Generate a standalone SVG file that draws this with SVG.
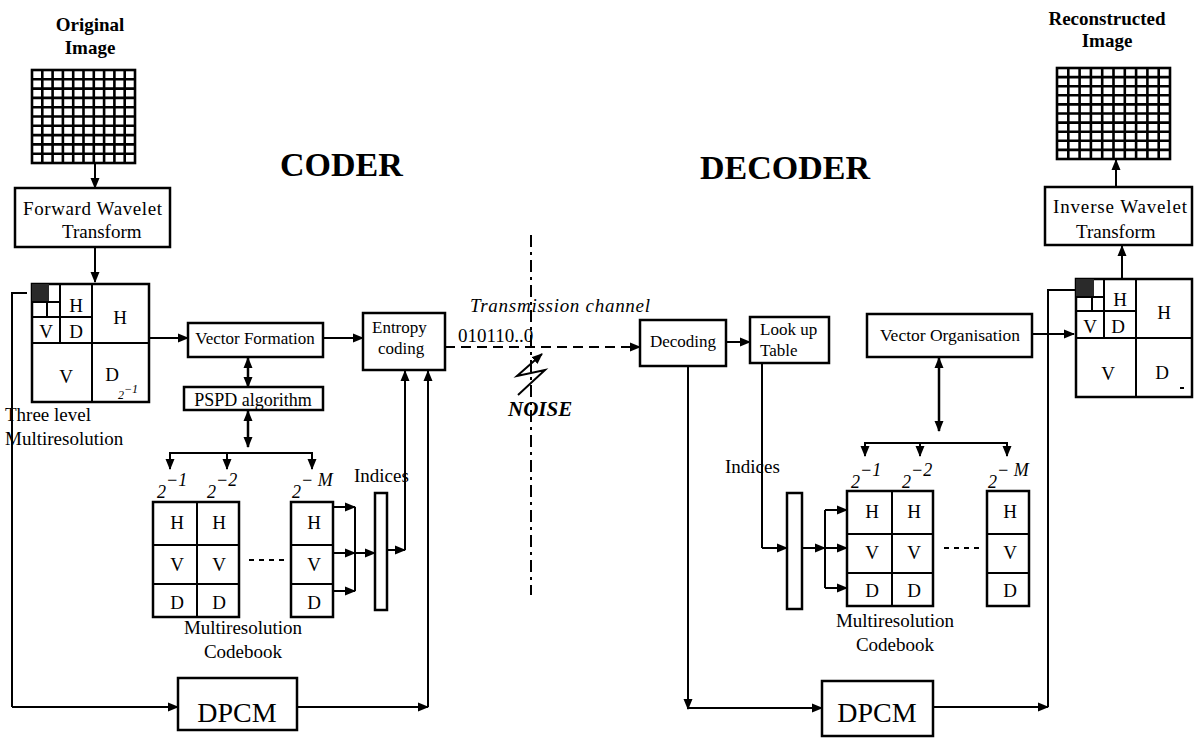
<svg xmlns="http://www.w3.org/2000/svg" width="1194" height="739" viewBox="0 0 1194 739">
<defs>
<marker id="ah" markerUnits="userSpaceOnUse" markerWidth="11" markerHeight="10" refX="10" refY="5" orient="auto-start-reverse">
<path d="M0,0.5 L11,5 L0,9.5 z" fill="#000"/>
</marker>
</defs>
<style>
text{font-family:"Liberation Serif","Times New Roman",serif;fill:#000}
.box{fill:#fff;stroke:#000;stroke-width:2.5}
.ln{fill:none;stroke:#000;stroke-width:2}
.arr{fill:none;stroke:#000;stroke-width:2;marker-end:url(#ah)}
.darr{fill:none;stroke:#000;stroke-width:2.5;marker-end:url(#ah);marker-start:url(#ah)}
.grid{fill:#fff;stroke:#000;stroke-width:2.6}
.t17{font-size:17px}
.t19{font-size:19px}
.lab{font-size:19px;text-anchor:middle}
.sup{font-size:18px;font-style:italic}
.big{font-size:34px;font-weight:bold}
.ttl{font-size:19px;font-weight:bold;text-anchor:middle}
.dark{fill:#2a2a2a}
</style>
<rect width="1194" height="739" fill="#fff"/>

<!-- Section titles -->
<text class="big" x="280" y="176">CODER</text>
<text class="big" x="700" y="179">DECODER</text>

<g id="original-image">
<text class="ttl" x="90" y="31">Original</text>
<text class="ttl" x="90" y="54">Image</text>
<rect class="grid" x="32" y="70" width="103" height="93"/>
<path class="grid" d="M42.3,70V163M52.6,70V163M62.9,70V163M73.2,70V163M83.5,70V163M93.8,70V163M104.1,70V163M114.4,70V163M124.7,70V163M32,79.3H135M32,88.6H135M32,97.9H135M32,107.2H135M32,116.5H135M32,125.8H135M32,135.1H135M32,144.4H135M32,153.7H135"/>
</g>

<g id="forward-wavelet">
<rect class="box" x="15" y="188" width="155" height="59"/>
<text class="t19" x="23" y="215" textLength="139">Forward Wavelet</text>
<text class="t19" x="62" y="238">Transform</text>
</g>

<g id="three-level">
<rect class="box" x="32" y="284" width="117" height="118"/>
<path class="ln" d="M92,284V402M32,343H149M60,284V343M32,317H92M47,302V317M32,302H60" stroke-width="2.5"/>
<rect class="dark" x="32" y="284" width="17" height="17"/>
<text class="lab" x="76" y="312">H</text>
<text class="lab" x="46" y="338">V</text>
<text class="lab" x="76" y="338">D</text>
<text class="lab" x="120" y="324">H</text>
<text class="lab" x="66" y="383">V</text>
<text class="lab" x="112" y="381">D</text>
<text style="font-size:12px;font-style:italic" x="118" y="399">2<tspan dy="-6">−1</tspan></text>
<text class="t19" x="5" y="421">Three level</text>
<text class="t19" x="5" y="445">Multiresolution</text>
</g>

<g id="vector-formation">
<rect class="box" x="188" y="323" width="135" height="34"/>
<text class="t17" x="255" y="344" text-anchor="middle">Vector Formation</text>
</g>

<g id="pspd">
<rect class="box" x="184" y="387" width="139" height="23"/>
<text style="font-size:18px" x="253" y="406" text-anchor="middle">PSPD algorithm</text>
</g>

<g id="entropy-coding">
<rect class="box" x="363" y="313" width="82" height="57"/>
<text class="t17" x="372" y="333">Entropy</text>
<text class="t17" x="378" y="354">coding</text>
</g>

<g id="coder-codebook">
<rect class="box" x="153" y="502" width="86" height="115"/>
<path class="ln" stroke-width="2.5" d="M197,502V617M153,545H239M153,584H239"/>
<rect class="box" x="291" y="502" width="42" height="115"/>
<path class="ln" stroke-width="2.5" d="M291,545H333M291,584H333"/>
<path class="ln" stroke-width="2.5" stroke-dasharray="5,5" d="M249,560H285"/>
<text class="lab" x="177" y="529">H</text>
<text class="lab" x="219" y="529">H</text>
<text class="lab" x="314" y="529">H</text>
<text class="lab" x="177" y="571">V</text>
<text class="lab" x="219" y="571">V</text>
<text class="lab" x="314" y="571">V</text>
<text class="lab" x="177" y="609">D</text>
<text class="lab" x="219" y="609">D</text>
<text class="lab" x="314" y="609">D</text>
<text class="sup" x="157" y="498">2<tspan dy="-12">−1</tspan></text>
<text class="sup" x="207" y="498">2<tspan dy="-12">−2</tspan></text>
<text class="sup" x="292" y="498">2<tspan dy="-12">− M</tspan></text>
<text class="t19" x="243" y="634" text-anchor="middle">Multiresolution</text>
<text class="t19" x="243" y="658" text-anchor="middle">Codebook</text>
</g>

<g id="coder-indices">
<rect class="box" x="375" y="493" width="12" height="117" stroke-width="2.2"/>
<text class="t19" x="354" y="482">Indices</text>
</g>

<g id="coder-dpcm">
<rect class="box" x="178" y="678" width="119" height="52"/>
<text style="font-size:28px" x="237" y="722" text-anchor="middle">DPCM</text>
</g>

<g id="channel">
<path class="ln" stroke-dasharray="12,5,3,5" d="M531,235V595"/>
<text style="font-size:19px;font-style:italic" x="470" y="312" textLength="180">Transmission channel</text>
<text style="font-size:19px" x="458" y="342">010110..0</text>
<polyline class="arr" points="518,395 545,370 517,376 542,354"/>
<text style="font-size:21px;font-weight:bold;font-style:italic" x="508" y="416">NOISE</text>
</g>

<g id="decoding">
<rect class="box" x="640" y="320" width="86" height="46"/>
<text class="t17" x="683" y="347" text-anchor="middle">Decoding</text>
</g>

<g id="lookup">
<rect class="box" x="750" y="317" width="79" height="46"/>
<text class="t17" x="760" y="335">Look up</text>
<text class="t17" x="760" y="356">Table</text>
</g>

<g id="vector-organisation">
<rect class="box" x="867" y="314" width="165" height="43"/>
<text style="font-size:17.5px" x="950" y="341" text-anchor="middle">Vector Organisation</text>
</g>

<g id="decoder-indices">
<rect class="box" x="787" y="493" width="15" height="116" stroke-width="2.2"/>
<text class="t19" x="725" y="473">Indices</text>
</g>

<g id="decoder-codebook">
<rect class="box" x="847" y="491" width="86" height="115"/>
<path class="ln" stroke-width="2.5" d="M892,491V606M847,534H933M847,573H933"/>
<rect class="box" x="987" y="491" width="42" height="115"/>
<path class="ln" stroke-width="2.5" d="M987,534H1029M987,573H1029"/>
<path class="ln" stroke-width="2.5" stroke-dasharray="5,5" d="M944,548H981"/>
<text class="lab" x="872" y="518">H</text>
<text class="lab" x="914" y="518">H</text>
<text class="lab" x="1010" y="518">H</text>
<text class="lab" x="872" y="559">V</text>
<text class="lab" x="914" y="559">V</text>
<text class="lab" x="1010" y="559">V</text>
<text class="lab" x="872" y="597">D</text>
<text class="lab" x="914" y="597">D</text>
<text class="lab" x="1010" y="597">D</text>
<text class="sup" x="851" y="488">2<tspan dy="-12">−1</tspan></text>
<text class="sup" x="902" y="488">2<tspan dy="-12">−2</tspan></text>
<text class="sup" x="988" y="488">2<tspan dy="-12">− M</tspan></text>
<text class="t19" x="895" y="627" text-anchor="middle">Multiresolution</text>
<text class="t19" x="895" y="651" text-anchor="middle">Codebook</text>
</g>

<g id="decoder-dpcm">
<rect class="box" x="822" y="681" width="111" height="55"/>
<text style="font-size:28px" x="877" y="722" text-anchor="middle">DPCM</text>
</g>

<g id="decoder-wavelet">
<rect class="box" x="1076" y="279" width="116" height="118"/>
<path class="ln" stroke-width="2.5" d="M1136,279V397M1076,338H1192M1104,279V338M1076,311H1136M1092,297V311M1076,297H1104"/>
<rect class="dark" x="1076" y="279" width="18" height="17"/>
<text class="lab" x="1120" y="306">H</text>
<text class="lab" x="1090" y="333">V</text>
<text class="lab" x="1118" y="333">D</text>
<text class="lab" x="1164" y="319">H</text>
<text class="lab" x="1108" y="380">V</text>
<text class="lab" x="1162" y="379">D</text>
<path class="ln" stroke-width="1" d="M1180,388H1184"/>
</g>

<g id="inverse-wavelet">
<rect class="box" x="1045" y="187" width="147" height="58"/>
<text class="t19" x="1053" y="213" textLength="134">Inverse Wavelet</text>
<text class="t19" x="1076" y="238">Transform</text>
</g>

<g id="reconstructed-image">
<text class="ttl" x="1107" y="25">Reconstructed</text>
<text class="ttl" x="1107" y="47">Image</text>
<rect class="grid" x="1057" y="68" width="113" height="91"/>
<path class="grid" d="M1068.3,68V159M1079.6,68V159M1090.9,68V159M1102.2,68V159M1113.5,68V159M1124.8,68V159M1136.1,68V159M1147.4,68V159M1158.7,68V159M1057,77.1H1170M1057,86.2H1170M1057,95.3H1170M1057,104.4H1170M1057,113.5H1170M1057,122.6H1170M1057,131.7H1170M1057,140.8H1170M1057,149.9H1170"/>
</g>

<g id="connectors">
<!-- coder -->
<path class="arr" d="M95,163V188"/>
<path class="arr" d="M95,247V282"/>
<path class="arr" d="M149,338H188"/>
<path class="arr" d="M323,338H363"/>
<path class="darr" d="M248,358V387"/>
<path class="darr" d="M248,411V447"/>
<path class="ln" d="M170,453H312"/>
<path class="arr" d="M170,452V469"/>
<path class="arr" d="M227,452V469"/>
<path class="arr" d="M312,452V469"/>
<path class="arr" d="M333,507H355"/>
<path class="arr" d="M333,553H355"/>
<path class="arr" d="M333,591H355"/>
<path class="ln" d="M355,507V591"/>
<path class="arr" d="M355,553H375"/>
<path class="arr" d="M387,550H405"/>
<path class="arr" d="M405,550V371"/>
<path class="arr" d="M428,707V371"/>
<path class="ln" d="M27,293H12V707"/>
<path class="arr" d="M12,707H178"/>
<path class="arr" d="M297,707H428"/>
<!-- channel -->
<path class="ln" stroke-dasharray="10,6" d="M445,347H630"/>
<path class="arr" d="M628,347H640"/>
<!-- decoder -->
<path class="arr" d="M726,342H750"/>
<path class="arr" d="M688,366V709"/>
<path class="arr" d="M688,708H822"/>
<path class="ln" d="M762,363V548"/>
<path class="arr" d="M762,548H787"/>
<path class="arr" d="M802,548H825"/>
<path class="ln" d="M825,510V588"/>
<path class="arr" d="M825,510H847"/>
<path class="arr" d="M825,548H847"/>
<path class="arr" d="M825,588H847"/>
<path class="darr" d="M939,358V431"/>
<path class="ln" d="M865,443H1007"/>
<path class="arr" d="M865,442V456"/>
<path class="arr" d="M920,442V456"/>
<path class="arr" d="M1007,442V456"/>
<path class="arr" d="M1032,334H1074"/>
<path class="arr" d="M933,707H1048"/>
<path class="ln" d="M1048,707V290H1076"/>
<path class="arr" d="M1122,279V246"/>
<path class="arr" d="M1116,187V160"/>
</g>
</svg>
